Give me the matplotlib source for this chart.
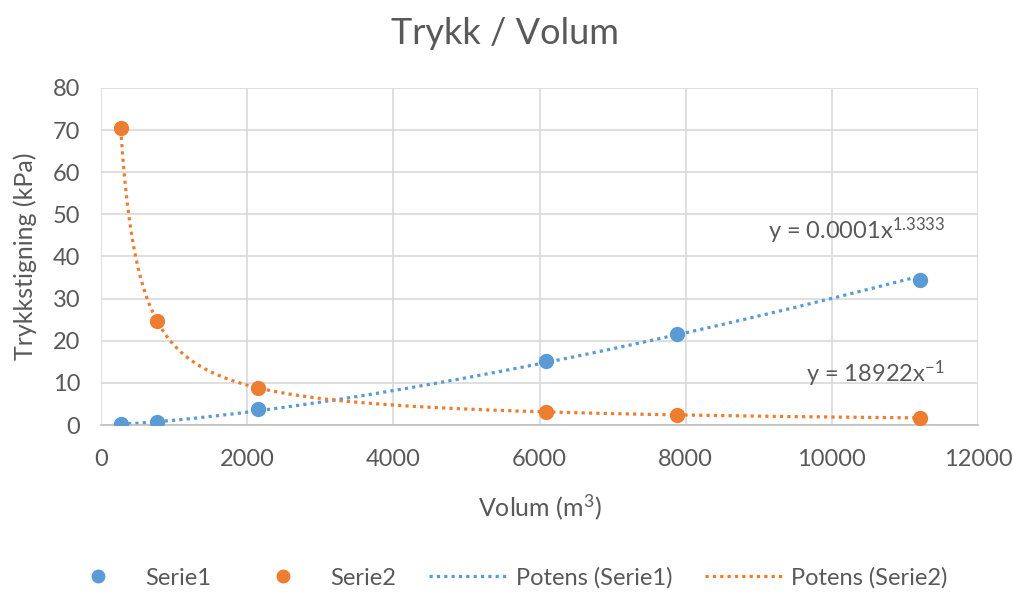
import numpy as np
import matplotlib
matplotlib.use("Agg")
import matplotlib.pyplot as plt

plt.rcParams['font.family'] = ['Lato', 'DejaVu Sans']
plt.rcParams['mathtext.fontset'] = 'custom'
plt.rcParams['mathtext.rm'] = 'Lato'
plt.rcParams['mathtext.it'] = 'Lato'

# volum (m3) og trykkstigning (kPa)
volum = [270, 760, 2150, 6090, 7880, 11200]
serie1 = [0.2, 0.6, 3.8, 15.2, 21.6, 34.5]
serie2 = [70.5, 24.8, 8.8, 3.1, 2.4, 1.7]

x_ticks = [0, 2000, 4000, 6000, 8000, 10000, 12000]
y_ticks = [0, 10, 20, 30, 40, 50, 60, 70, 80]

blue = '#5b9bd5'
orange = '#ed7d31'
grey = '#595959'
grid = '#d9d9d9'


def power_fit(x, y):
    x = np.asarray(x, float)
    y = np.asarray(y, float)
    b, ln_a = np.polyfit(np.log(x), np.log(y), 1)
    return np.exp(ln_a), b


fig = plt.figure(figsize=(10.13, 5.94), dpi=100)
ax = fig.add_axes([0.0997, 0.2845, 0.8658, 0.5674])

xs = np.linspace(min(volum), max(volum), 400)
a1, b1 = power_fit(volum, serie1)
a2, b2 = power_fit(volum, serie2)

ax.plot(xs, a1 * xs ** b1, color=blue, lw=2.3, dashes=(1, 1.3),
        label='Potens (Serie1)', zorder=2)
ax.plot(xs, a2 * xs ** b2, color=orange, lw=2.3, dashes=(1, 1.3),
        label='Potens (Serie2)', zorder=2)
ax.plot(volum, serie1, 'o', color=blue, ms=10, label='Serie1', zorder=3)
ax.plot(volum, serie2, 'o', color=orange, ms=10, label='Serie2', zorder=3)

ax.set_xlim(0, 12000)
ax.set_ylim(0, 80)
ax.set_xticks(x_ticks)
ax.set_yticks(y_ticks)
ax.grid(True, color=grid, lw=1.2)
ax.set_axisbelow(True)
for s in ['top', 'right', 'left']:
    ax.spines[s].set_visible(False)
ax.spines['bottom'].set_color('#bfbfbf')
ax.spines['bottom'].set_linewidth(1.2)
ax.tick_params(length=0, labelsize=17, colors=grey)
ax.tick_params(axis='x', pad=17)
ax.tick_params(axis='y', pad=15)

fig.text(0.4985, 0.944, 'Trykk / Volum', fontsize=26, color=grey,
         ha='center', va='center')
ax.set_xlabel('Volum (m$^3$)', fontsize=18, color=grey)
ax.set_ylabel('Trykkstigning (kPa)', fontsize=18, color=grey)
ax.xaxis.set_label_coords(0.5, -0.20)
ax.yaxis.set_label_coords(-0.073, 0.5)

ax.text(0.962, 0.576, r'y = 0.0001x$^{1.3333}$', transform=ax.transAxes,
        ha='right', va='center', fontsize=17, color=grey)
ax.text(0.962, 0.151, r'y = 18922x$^{-1}$', transform=ax.transAxes,
        ha='right', va='center', fontsize=17, color=grey)

handles, labels = ax.get_legend_handles_labels()
order = [2, 3, 0, 1]
fig.legend([handles[i] for i in order], [labels[i] for i in order],
           loc='center', bbox_to_anchor=(0.497, 0.027), ncol=4, frameon=False,
           fontsize=17, labelcolor=grey, handlelength=3.3, handletextpad=0.35,
           columnspacing=1.4, markerscale=0.9)

fig.savefig('out.png', dpi=100)
